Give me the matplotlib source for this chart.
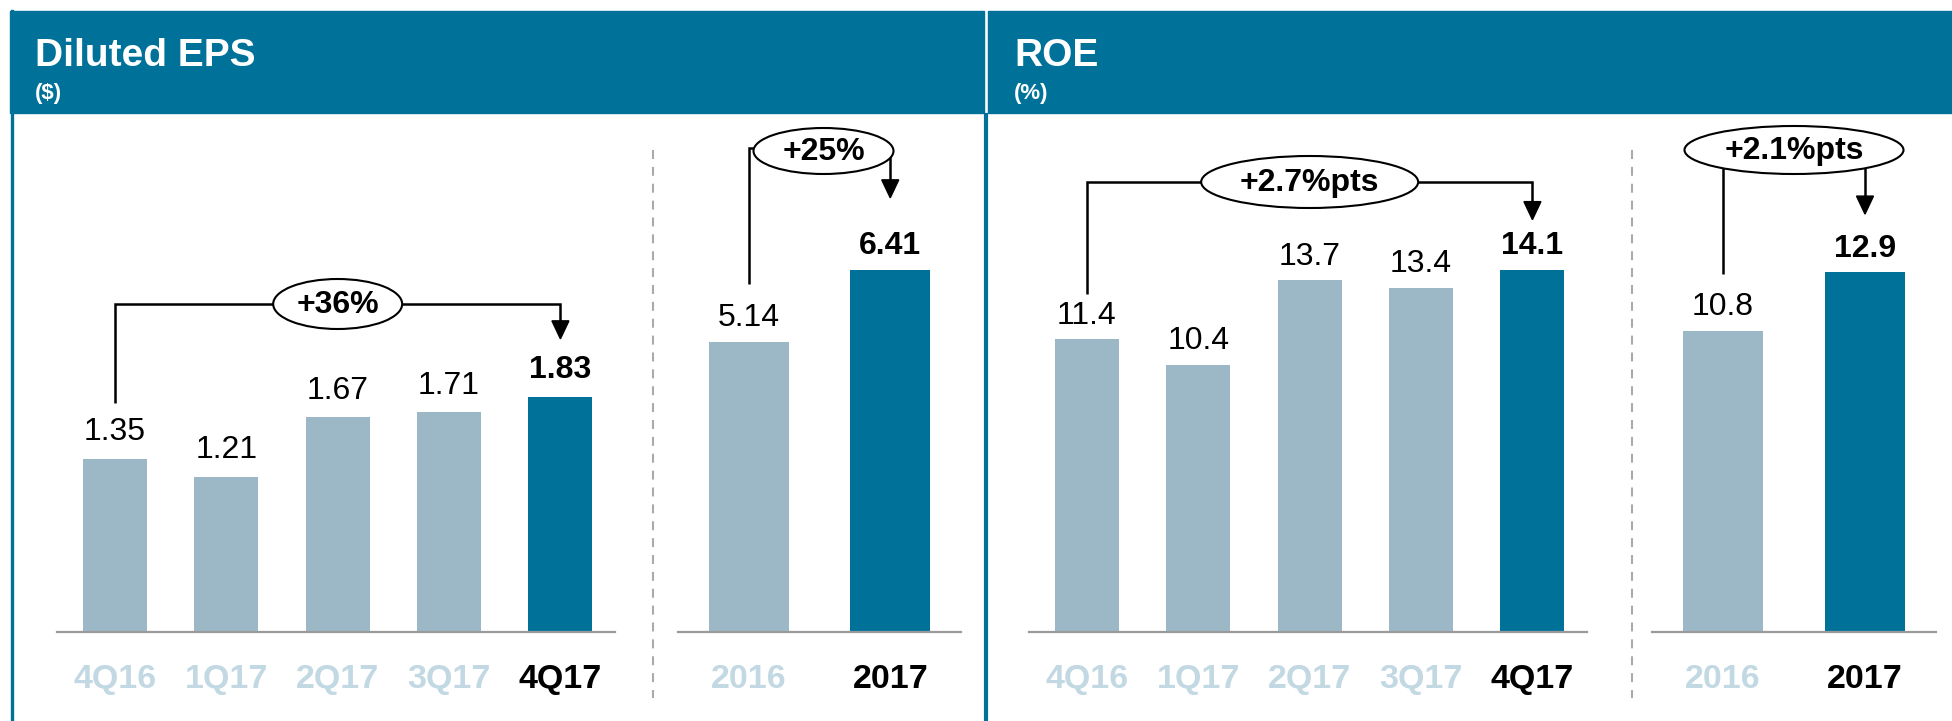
import matplotlib
matplotlib.use('Agg')
import matplotlib.pyplot as plt
from matplotlib.patches import Rectangle, Ellipse, Polygon

plt.rcParams['font.family'] = ['Liberation Sans', 'DejaVu Sans']

# data
quarters = ['4Q16', '1Q17', '2Q17', '3Q17', '4Q17']
years = ['2016', '2017']
eps_quarterly = [1.35, 1.21, 1.67, 1.71, 1.83]
eps_annual = [5.14, 6.41]
roe_quarterly = [11.4, 10.4, 13.7, 13.4, 14.1]
roe_annual = [10.8, 12.9]
eps_q_change = '+36%'
eps_y_change = '+25%'
roe_q_change = '+2.7%pts'
roe_y_change = '+2.1%pts'

# colours
teal = '#00729A'
light_bar = '#9CB8C6'
light_tick = '#C2D8E2'
base_grey = '#9A9A9A'

W, H = 1952, 721
fig = plt.figure(figsize=(W / 100, H / 100), dpi=100)

# overlay in pixel coordinates (y down) for frames, brackets and titles
ov = fig.add_axes([0, 0, 1, 1], zorder=5)
ov.set_xlim(0, W)
ov.set_ylim(H, 0)
ov.axis('off')


def px_axes(x0, x1, ybase, ytop):
    return fig.add_axes([x0 / W, (H - ybase) / H, (x1 - x0) / W, (ybase - ytop) / H])


def to_px(ax, x, y):
    d = ax.transData.transform((x, y))
    return d[0], H - d[1]


def bar_panel(ax, cats, vals, fmt, px_per_unit, height_px, xlim, width, lab_off):
    n = len(vals)
    colors = [light_bar] * (n - 1) + [teal]
    ax.bar(range(n), vals, width=width, color=colors)
    ax.set_xlim(*xlim)
    ax.set_ylim(0, height_px / px_per_unit)
    for s in ['top', 'left', 'right']:
        ax.spines[s].set_visible(False)
    ax.spines['bottom'].set_color(base_grey)
    ax.spines['bottom'].set_linewidth(1.6)
    ax.set_yticks([])
    ax.set_xticks(range(n))
    ax.set_xticklabels(cats, fontsize=24.5, fontweight='bold')
    ax.tick_params(axis='x', length=0, pad=23)
    for i, lab in enumerate(ax.get_xticklabels()):
        lab.set_color('black' if i == n - 1 else light_tick)
    for i, v in enumerate(vals):
        ax.annotate(fmt.format(v), (i, v), xytext=(0, lab_off), textcoords='offset points',
                    ha='center', va='baseline', fontsize=23,
                    fontweight='bold' if i == n - 1 else 'normal')


def bracket(ax, vals, by, ey, ew, eh, text, gap_l, gap_r, dx=0):
    x0, t0 = to_px(ax, 0, vals[0])
    x1, t1 = to_px(ax, len(vals) - 1, vals[-1])
    tip = t1 - gap_r
    ov.plot([x0, x0, x1, x1], [t0 - gap_l, by, by, tip - 17], color='black', lw=1.8,
            solid_joinstyle='miter', solid_capstyle='butt', zorder=2)
    ov.add_patch(Polygon([(x1 - 8.5, tip - 18), (x1 + 8.5, tip - 18), (x1, tip)],
                         closed=True, color='black', zorder=2))
    cx = (x0 + x1) / 2 + dx
    ov.add_patch(Ellipse((cx, ey), ew, eh, facecolor='white', edgecolor='black', lw=1.5, zorder=3))
    ov.text(cx, ey + 9, text, ha='center', va='baseline', fontsize=23, fontweight='bold', zorder=4)


ybase, ytop = 632, 150
hpx = ybase - ytop

ax1 = px_axes(57, 615, ybase, ytop)
bar_panel(ax1, quarters, eps_quarterly, '{:.2f}', 128.5, hpx, (-0.52, 4.49), 0.575, 13.5)
ax2 = px_axes(678, 961, ybase, ytop)
bar_panel(ax2, years, eps_annual, '{:.2f}', 56.5, hpx, (-0.5, 1.5), 0.566, 11.5)
ax3 = px_axes(1029, 1587, ybase, ytop)
bar_panel(ax3, quarters, roe_quarterly, '{:.1f}', 25.7, hpx, (-0.52, 4.49), 0.575, 11)
ax4 = px_axes(1652, 1936, ybase, ytop)
bar_panel(ax4, years, roe_annual, '{:.1f}', 27.9, hpx, (-0.5, 1.5), 0.566, 11)

# panel headers and frames
ov.add_patch(Rectangle((10, 11), 974, 102, color=teal, zorder=1))
ov.add_patch(Rectangle((988, 11), W - 988, 102, color=teal, zorder=1))
ov.plot([11.5, 11.5], [11, H], color=teal, lw=2.4, zorder=1)
ov.plot([986, 986], [115, H], color=teal, lw=3, zorder=1)

# dashed separators
for xd in [653, 1632]:
    ov.plot([xd, xd], [150, 698], color='#AAAAAA', lw=1.5, dashes=[4.3, 3.8], zorder=1)

ov.text(35, 66, 'Diluted EPS', color='white', fontsize=28, fontweight='bold', va='baseline')
ov.text(35, 99, '($)', color='white', fontsize=16, fontweight='bold', va='baseline')
ov.text(1014, 66, 'ROE', color='white', fontsize=28, fontweight='bold', va='baseline')
ov.text(1014, 99, '(%)', color='white', fontsize=16, fontweight='bold', va='baseline')

bracket(ax1, eps_quarterly, 304, 304, 129, 50, eps_q_change, 56, 58)
bracket(ax2, eps_annual, 148, 151, 140, 46, eps_y_change, 58, 72, dx=4)
bracket(ax3, roe_quarterly, 182, 182, 217, 52, roe_q_change, 45, 50)
bracket(ax4, roe_annual, 150, 150, 219, 48, roe_y_change, 57, 58)

fig.savefig('out.png', dpi=100)
